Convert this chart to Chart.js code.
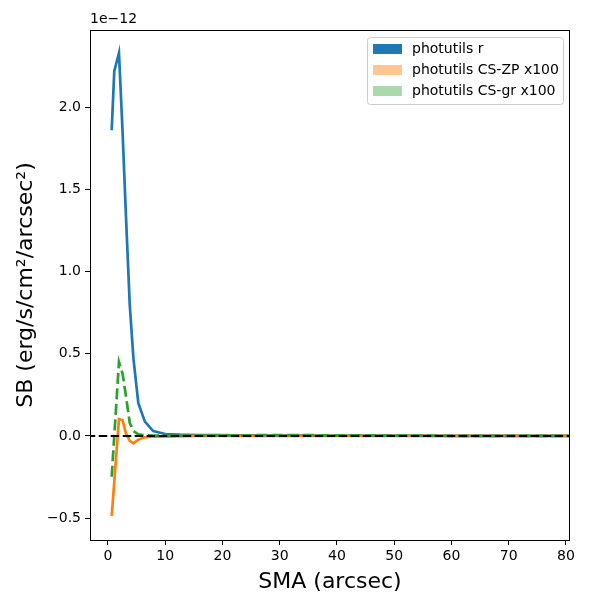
<!DOCTYPE html>
<html lang="en">
<head>
    <meta charset="UTF-8">
    <title>SB profile</title>
    <script src="https://cdn.jsdelivr.net/npm/chart.js"></script>
    <style>
        html, body { margin: 0; padding: 0; background: #fff; }
        #wrap { width: 600px; height: 600px; }
    </style>
</head>
<body>
<div id="wrap"><canvas id="sbChart" width="600" height="600"></canvas></div>
<script>
// SB values are in units of 1e-12 erg/s/cm^2/arcsec^2 (the axis offset text)
const sma   = [0.65, 1.1, 1.92, 2.55, 3.15, 3.8, 4.45, 5.3, 6.45, 7.9, 10.0, 12.5, 15.5, 19, 23, 28, 33, 39, 45, 52, 60, 68, 76, 85];
const sbR   = [1.86, 2.22, 2.33, 1.85, 1.33, 0.80, 0.47, 0.20, 0.087, 0.030, 0.012, 0.008, 0.006, 0.005, 0.004, 0.003, 0.003, 0.002, 0.002, 0.0015, 0.001, 0.001, 0.0008, 0.0005];
const sbZP  = [-0.487, -0.28, 0.103, 0.095, 0.015, -0.03, -0.045, -0.022, -0.008, -0.004, -0.002, -0.001, 0.0, 0.001, 0.001, 0.001, 0.0, 0.001, 0.001, 0.0, 0.0, 0.0, 0.0, 0.0];
const sbGR  = [-0.248, 0.0, 0.45, 0.38, 0.24, 0.08, 0.03, 0.01, 0.004, 0.002, 0.001, 0.001, 0.002, 0.003, 0.004, 0.005, 0.005, 0.004, 0.003, 0.002, 0.001, 0.001, 0.0, 0.0];
const xTicks = [0, 10, 20, 30, 40, 50, 60, 70, 80];
const yTicks = [-0.5, 0.0, 0.5, 1.0, 1.5, 2.0];

const FONT = 'DejaVu Sans';

function pts(ys) {
    return sma.map((x, i) => ({ x: x, y: ys[i] }));
}

function fmt(v, dec) {
    const s = Math.abs(v).toFixed(dec);
    return (v < 0 ? '\u2212' : '') + s;
}

const legendItems = [
    { text: 'photutils r', color: '#1f77b4' },
    { text: 'photutils CS-ZP x100', color: 'rgba(255,127,14,0.45)' },
    { text: 'photutils CS-gr x100', color: 'rgba(44,160,44,0.4)' }
];

// axes frame, offset text and the legend box
const decorPlugin = {
    id: 'decor',
    afterDraw(chart) {
        const ctx = chart.ctx;
        const a = chart.chartArea;
        ctx.save();
        ctx.strokeStyle = '#000';
        ctx.lineWidth = 1;
        ctx.strokeRect(a.left + 0.5, a.top + 0.5, a.right - a.left - 1, a.bottom - a.top);

        ctx.fillStyle = '#000';
        ctx.font = '14px "' + FONT + '"';
        ctx.textBaseline = 'bottom';
        ctx.textAlign = 'left';
        ctx.fillText('1e\u221212', a.left, a.top - 4);

        // legend
        const bw = 196, bh = 67;
        const bx = a.right - 7 - bw, by = a.top + 7;
        ctx.beginPath();
        ctx.roundRect(bx + 0.5, by + 0.5, bw, bh, 3);
        ctx.fillStyle = 'rgba(255,255,255,0.8)';
        ctx.fill();
        ctx.strokeStyle = '#cccccc';
        ctx.stroke();
        ctx.textBaseline = 'middle';
        legendItems.forEach((it, i) => {
            const cy = by + 12 + i * 21;
            ctx.fillStyle = it.color;
            ctx.fillRect(bx + 6, cy - 5, 29, 10);
            ctx.fillStyle = '#000';
            ctx.fillText(it.text, bx + 45, cy);
        });
        ctx.restore();
    }
};

const ctx = document.getElementById('sbChart').getContext('2d');
const chart = new Chart(ctx, {
    type: 'line',
    data: {
        datasets: [
            {
                label: 'photutils r',
                data: pts(sbR),
                borderColor: '#1f77b4',
                borderWidth: 2.7,
                order: 4
            },
            {
                label: 'photutils CS-ZP x100',
                data: pts(sbZP),
                borderColor: '#ff7f0e',
                borderWidth: 2.7,
                order: 3
            },
            {
                label: 'photutils CS-gr x100',
                data: pts(sbGR),
                borderColor: '#2ca02c',
                borderWidth: 2.7,
                borderDash: [11, 4.5],
                order: 2
            },
            {
                label: 'zero',
                data: [{ x: -10, y: 0 }, { x: 100, y: 0 }],
                borderColor: '#000',
                borderWidth: 2,
                borderDash: [8.5, 3.5],
                order: 1
            }
        ]
    },
    options: {
        responsive: false,
        animation: false,
        parsing: false,
        elements: {
            point: { radius: 0 },
            line: { tension: 0, fill: false, borderCapStyle: 'butt' }
        },
        layout: { padding: { top: 30, right: 30, left: 0, bottom: 0 } },
        plugins: {
            legend: { display: false },
            tooltip: { enabled: false }
        },
        scales: {
            x: {
                type: 'linear',
                min: -3.14,
                max: 80.7,
                afterBuildTicks: s => { s.ticks = xTicks.map(v => ({ value: v })); },
                afterFit: s => { s.height = 60; },
                grid: { drawOnChartArea: false, drawTicks: true, tickLength: 5, color: '#000', lineWidth: 1 },
                border: { display: false },
                ticks: {
                    color: '#000',
                    padding: 3,
                    maxRotation: 0,
                    font: { family: FONT, size: 14 },
                    callback: v => fmt(v, 0)
                },
                title: {
                    display: true,
                    text: 'SMA (arcsec)',
                    color: '#000',
                    font: { family: FONT, size: 22 },
                    padding: { top: 0, bottom: 5 }
                }
            },
            y: {
                type: 'linear',
                min: -0.633,
                max: 2.47,
                afterBuildTicks: s => { s.ticks = yTicks.map(v => ({ value: v })); },
                afterFit: s => { s.width = 90; },
                grid: { drawOnChartArea: false, drawTicks: true, tickLength: 5, color: '#000', lineWidth: 1 },
                border: { display: false },
                ticks: {
                    color: '#000',
                    padding: 4,
                    font: { family: FONT, size: 14 },
                    callback: v => fmt(v, 1)
                },
                title: {
                    display: true,
                    text: 'SB (erg/s/cm\u00b2/arcsec\u00b2)',
                    color: '#000',
                    font: { family: FONT, size: 22 },
                    padding: { top: 13, bottom: 0 }
                }
            }
        }
    },
    plugins: [decorPlugin]
});
</script>
</body>
</html>
